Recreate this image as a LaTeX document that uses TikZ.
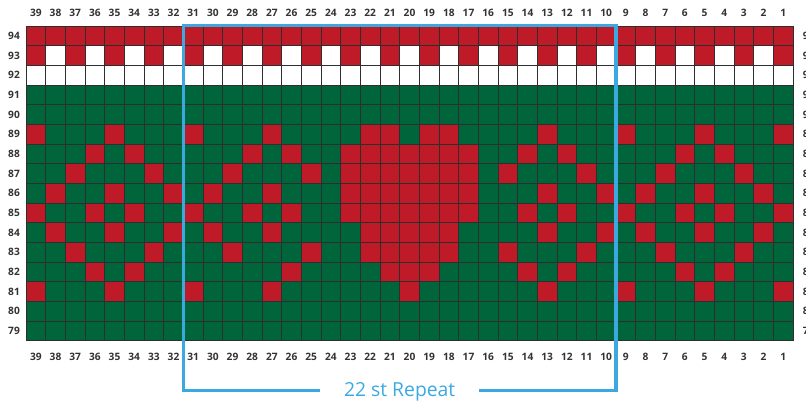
\documentclass[tikz,border=0pt]{standalone}
\usepackage{fontspec}
\setmainfont{Open Sans}
\usepackage{xcolor}
\definecolor{ChartRed}{HTML}{BE1A27}
\definecolor{ChartGreen}{HTML}{00653A}
\definecolor{RepeatBlue}{HTML}{3BA9E0}
\definecolor{LabelGray}{HTML}{333333}
\usepackage{tikz}
\usetikzlibrary{calc}

\begin{document}
\begin{tikzpicture}[x=5.9mm,y=-5.9mm,
stnum/.style={font=\fontsize{8.7}{10}\selectfont\bfseries,text=LabelGray,inner sep=0pt},
cellline/.style={draw=black!82,line width=0.3mm},
bracket/.style={draw=RepeatBlue,line width=1mm},
reptext/.style={font=\fontsize{16.5}{18}\selectfont,text=RepeatBlue,inner xsep=7mm,anchor=base}]
\clip (-1.322,-1.322) rectangle (39.66,19.17);
% base colours of the chart
\fill[ChartRed] (0,0) rectangle (39,1);
\fill[white] (0,1) rectangle (39,3);
\fill[ChartGreen] (0,3) rectangle (39,16);
% row 93
\foreach \s in {1,3,...,39} \fill[ChartRed] ({39-\s},1) rectangle ++(1,1);
% rows 89 to 81
\foreach \r/\reds in {
89/{39,35,31,27,22,21,19,18,13,9,5,1},
88/{36,34,28,26,23,22,21,20,19,18,17,14,12,6,4},
87/{37,33,29,25,23,22,21,20,19,18,17,15,11,7,3},
86/{38,35,32,30,27,23,22,21,20,19,18,17,13,10,8,5,2},
85/{39,36,34,31,28,26,23,22,21,20,19,18,17,14,12,9,6,4,1},
84/{38,35,32,30,27,22,21,20,19,18,13,10,8,5,2},
83/{37,33,29,25,22,21,20,19,18,15,11,7,3},
82/{36,34,26,21,20,19,14,12,6,4},
81/{39,35,31,27,20,13,9,5,1}}{
  \foreach \s in \reds \fill[ChartRed] ({39-\s},{94-\r}) rectangle ++(1,1);
}
% grid
\foreach \k in {0,...,39} \draw[cellline] (\k,0) -- (\k,16);
\foreach \m in {0,...,16} \draw[cellline] (0,\m) -- (39,\m);
% stitch numbers
\foreach \s in {1,...,39} {
  \node[stnum] (top\s) at ({39.5-\s},-0.66) {\s};
  \node[stnum] (bot\s) at ({39.5-\s},16.83) {\s};
}
% row numbers
\foreach \r in {79,...,94} {
  \node[stnum] (left\r) at (-0.61,{94.5-\r}) {\r};
  \node[stnum,anchor=west] (right\r) at (39.49,{94.5-\r}) {\r};
}
% repeat bracket
\coordinate (repTL) at (8,-0.03);
\coordinate (repTR) at (30,-0.03);
\coordinate (repBL) at (8,18.54);
\coordinate (repBR) at (30,18.54);
\node[reptext] (repeat) at (19,18.85) {22 st Repeat};
\draw[bracket] (repeat.west |- repBL) -- (repBL) -- (repTL) -- (repTR) -- (repBR) -- (repeat.east |- repBR);
\end{tikzpicture}
\end{document}
